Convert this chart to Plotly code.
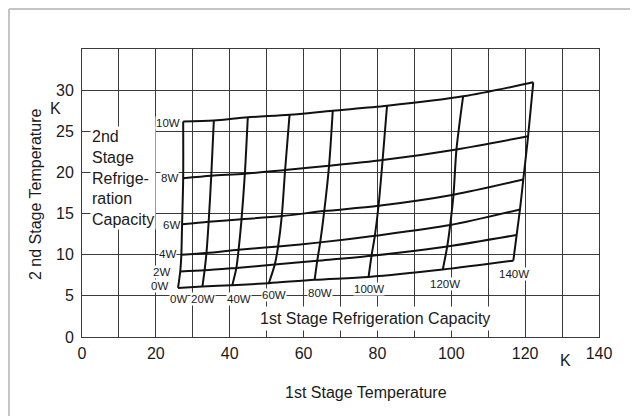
import plotly.graph_objects as go

# 1st stage refrigeration capacity (W) for the near-vertical curves
first_stage_loads = ["0W", "20W", "40W", "60W", "80W", "100W", "120W", "140W"]
# 2nd stage refrigeration capacity (W) for the near-horizontal curves
second_stage_loads = ["0W", "2W", "4W", "6W", "8W", "10W"]

# Intersection points: 1st stage temperature (K) / 2nd stage temperature (K),
# one list per 2nd-stage load, ordered by 1st-stage load 0W..140W
t1_0w = [26.0, 32.6, 40.7, 50.6, 63.0, 77.6, 97.7, 116.8]
t2_0w = [5.97, 6.13, 6.29, 6.54, 6.96, 7.3, 8.2, 9.28]
t1_2w = [26.6, 33.2, 41.8, 52.2, 63.7, 78.4, 98.9, 117.7]
t2_2w = [7.96, 8.1, 8.4, 8.8, 9.26, 9.87, 11.0, 12.4]
t1_4w = [26.9, 33.7, 42.4, 53.1, 64.5, 79.3, 99.7, 118.6]
t2_4w = [10.0, 10.2, 10.6, 11.0, 11.5, 12.3, 13.6, 15.5]
t1_6w = [27.1, 34.3, 43.2, 54.1, 65.6, 80.3, 100.6, 119.5]
t2_6w = [13.7, 14.0, 14.3, 14.7, 15.3, 15.95, 17.3, 19.15]
t1_8w = [27.4, 35.0, 44.1, 55.0, 66.9, 81.4, 101.4, 120.8]
t2_8w = [19.3, 19.6, 19.85, 20.3, 20.8, 21.5, 22.8, 24.4]
t1_10w = [27.4, 35.7, 44.9, 56.2, 67.9, 82.6, 103.2, 122.2]
t2_10w = [26.2, 26.3, 26.7, 27.0, 27.5, 28.1, 29.25, 30.95]

t1_rows = [t1_0w, t1_2w, t1_4w, t1_6w, t1_8w, t1_10w]
t2_rows = [t2_0w, t2_2w, t2_4w, t2_6w, t2_8w, t2_10w]

# label positions (data coords) for the curve labels
second_label_x = [21.1, 21.5, 23.1, 24.2, 23.6, 23.2]
second_label_y = [6.2, 7.9, 10.1, 13.6, 19.3, 26.0]
first_label_x = [26.0, 32.8, 42.5, 52.1, 64.4, 77.8, 98.3, 117.0]
first_label_y = [4.64, 4.64, 4.64, 5.1, 5.4, 5.8, 6.4, 7.6]

x_ticks = [0, 10, 20, 30, 40, 50, 60, 70, 80, 90, 100, 110, 120, 130, 140]
x_tick_text = ["0", "", "20", "", "40", "", "60", "", "80", "", "100", "", "120", "", "140"]
y_ticks = [0, 5, 10, 15, 20, 25, 30]

FONT = "Liberation Sans, Arial, sans-serif"
INK = "#1a1a1a"
GRID = "#3a3a3a"

fig = go.Figure()

# near-horizontal curves (constant 2nd stage load)
for name, xs, ys in zip(second_stage_loads, t1_rows, t2_rows):
    fig.add_trace(go.Scatter(x=xs, y=ys, mode="lines", name="2nd " + name,
                             line=dict(color="#111", width=2, shape="spline", smoothing=0.8),
                             showlegend=False, hoverinfo="skip"))

# near-vertical curves (constant 1st stage load)
for i, name in enumerate(first_stage_loads):
    xs = [row[i] for row in t1_rows]
    ys = [row[i] for row in t2_rows]
    fig.add_trace(go.Scatter(x=xs, y=ys, mode="lines", name="1st " + name,
                             line=dict(color="#111", width=2, shape="spline", smoothing=0.8),
                             showlegend=False, hoverinfo="skip"))

annotations = []
for name, lx, ly in zip(second_stage_loads, second_label_x, second_label_y):
    annotations.append(dict(x=lx, y=ly, xref="x", yref="y", text=name, showarrow=False,
                            xanchor="center", yanchor="middle",
                            font=dict(family=FONT, size=11.5, color=INK),
                            bgcolor="white", borderpad=0))
for name, lx, ly in zip(first_stage_loads, first_label_x, first_label_y):
    annotations.append(dict(x=lx, y=ly, xref="x", yref="y", text=name, showarrow=False,
                            xanchor="center", yanchor="middle",
                            font=dict(family=FONT, size=11.5, color=INK),
                            bgcolor="white", borderpad=0))

# block labels
annotations.append(dict(x=79.4, y=2.3, xref="x", yref="y",
                        text="1st Stage Refrigeration Capacity", showarrow=False,
                        xanchor="center", yanchor="middle",
                        font=dict(family=FONT, size=16, color=INK),
                        bgcolor="white", borderpad=3))
annotations.append(dict(x=0.0155, y=0.553, xref="paper", yref="paper",
                        xanchor="left", yanchor="middle",
                        text="2nd<br>Stage<br>Refrige-<br>ration<br>Capacity", align="left",
                        showarrow=False, font=dict(family=FONT, size=16, color=INK),
                        bgcolor="white", borderpad=1))

# axis titles and units
annotations.append(dict(x=-0.0909, y=0.493, xref="paper", yref="paper",
                        xanchor="center", yanchor="middle",
                        text="2 nd Stage Temperature", textangle=-90, showarrow=False,
                        font=dict(family=FONT, size=16, color=INK)))
annotations.append(dict(x=-0.0522, y=0.792, xref="paper", yref="paper", text="K",
                        xanchor="center", yanchor="middle",
                        showarrow=False, font=dict(family=FONT, size=16, color=INK)))
annotations.append(dict(x=0.5493, y=-0.191, xref="paper", yref="paper",
                        xanchor="center", yanchor="middle",
                        text="1st Stage Temperature", showarrow=False,
                        font=dict(family=FONT, size=16, color=INK)))
annotations.append(dict(x=0.936, y=-0.0833, xref="paper", yref="paper", text="K",
                        xanchor="center", yanchor="middle",
                        showarrow=False, font=dict(family=FONT, size=16, color=INK)))

# page body adds an 8px offset; margins compensate so the plot lands in place
fig.update_layout(
    width=638, height=416,
    margin=dict(l=74, r=47, t=41, b=87),
    paper_bgcolor="white", plot_bgcolor="white",
    annotations=annotations,
    shapes=[
        dict(type="line", xref="paper", yref="paper", x0=-0.1412, x1=1.2,
             y0=1.1389, y1=1.1389, line=dict(color="#c4c4c4", width=2), layer="below"),
        dict(type="line", xref="paper", yref="paper", x0=-0.1412, x1=-0.1412,
             y0=1.1389, y1=-0.4, line=dict(color="#c4c4c4", width=2), layer="below"),
    ],
)
fig.update_xaxes(range=[0, 140], tickvals=x_ticks, ticktext=x_tick_text,
                 showgrid=True, gridcolor=GRID, gridwidth=1,
                 showline=True, linecolor=GRID, linewidth=1, mirror=True,
                 zeroline=False, ticks="", ticklabelstandoff=2,
                 tickfont=dict(family=FONT, size=16, color=INK))
fig.update_yaxes(range=[0, 35], tickvals=y_ticks,
                 showgrid=True, gridcolor=GRID, gridwidth=1,
                 showline=True, linecolor=GRID, linewidth=1, mirror=True,
                 zeroline=False, ticks="", ticklabelstandoff=4,
                 tickfont=dict(family=FONT, size=16, color=INK))

fig.write_html("out.html")
